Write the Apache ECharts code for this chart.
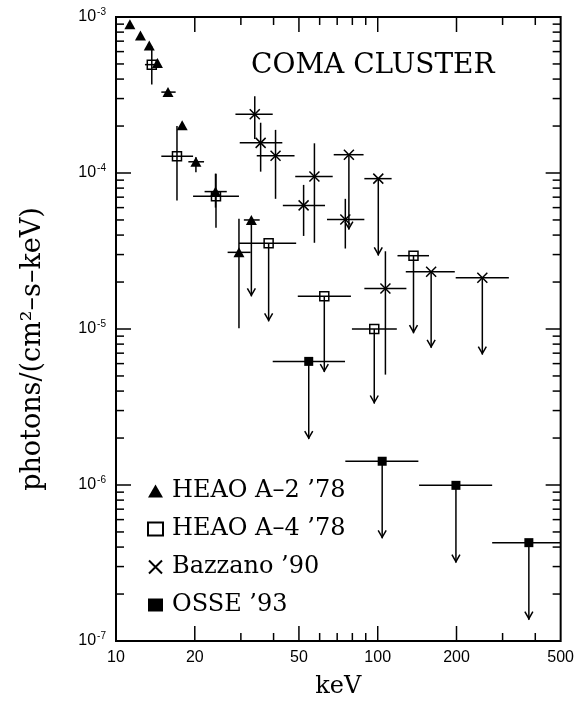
<!DOCTYPE html>
<html>
<head>
<meta charset="utf-8">
<script src="https://cdn.jsdelivr.net/npm/echarts@6/dist/echarts.min.js"></script>
<style>
  html, body { margin: 0; padding: 0; background: #fff; }
  #chart { width: 577px; height: 704px; }
</style>
</head>
<body>
<div id="chart"></div>
<script>
// rows: [keV, keV low, keV high, flux, flux low (or limit tip), flux high, upper limit]
const heaoA2 = [
  [11.3, null, null, 9.0e-4, null, null, 0],
  [12.4, null, null, 7.6e-4, null, null, 0],
  [13.4, null, null, 6.56e-4, null, null, 0],
  [14.4, null, null, 5.07e-4, null, null, 0],
  [15.8, 14.9, 16.9, 3.3e-4, null, null, 0],
  [17.9, null, null, 2.02e-4, null, null, 0],
  [20.2, 18.9, 21.7, 1.18e-4, 1.01e-4, 1.26e-4, 0],
  [24.0, 21.8, 26.5, 7.6e-5, 6.0e-5, 9.9e-5, 0],
  [32.9, 30.8, 35.4, 5.0e-5, 1.62e-5, null, 1],
  [29.5, 26.7, 32.7, 3.1e-5, 1.01e-5, 5.09e-5, 0]
];
const heaoA4 = [
  [13.7, 12.9, 14.3, 4.95e-4, 3.69e-4, 6.47e-4, 0],
  [17.1, 14.9, 19.7, 1.28e-4, 6.66e-5, 2.0e-4, 0],
  [24.1, 19.7, 29.5, 7.1e-5, 4.45e-5, 9.9e-5, 0],
  [38.3, 29.5, 48.8, 3.55e-5, 1.12e-5, null, 1],
  [62.5, 49.5, 79.0, 1.62e-5, 5.3e-6, null, 1],
  [97, 79.7, 118.3, 1.0e-5, 3.33e-6, null, 1],
  [137, 119, 157, 2.95e-5, 9.4e-6, null, 1]
];
const bazzano = [
  [33.9, 28.6, 39.7, 2.38e-4, 1.65e-4, 3.1e-4, 0],
  [35.7, 29.7, 43.2, 1.56e-4, 1.02e-4, 2.1e-4, 0],
  [40.7, 34.5, 48.1, 1.29e-4, 6.83e-5, 1.89e-4, 0],
  [57.3, 48.4, 67.3, 9.5e-5, 3.57e-5, 1.55e-4, 0],
  [52.1, 43.4, 62.9, 6.2e-5, 3.95e-5, 8.39e-5, 0],
  [77.6, 67.9, 88.3, 1.31e-4, 4.34e-5, null, 1],
  [75.2, 64.0, 88.9, 5.04e-5, 3.28e-5, 6.83e-5, 0],
  [100.5, 88.9, 113, 9.2e-5, 2.96e-5, null, 1],
  [107, 88.9, 128.7, 1.82e-5, 5.1e-6, 3.15e-5, 0],
  [160, 128, 197, 2.33e-5, 7.57e-6, null, 1],
  [251, 198.6, 317, 2.13e-5, 6.86e-6, null, 1]
];
const osse = [
  [54.5, 39.7, 75.0, 6.2e-6, 1.97e-6, null, 1],
  [104, 75.2, 143, 1.42e-6, 4.55e-7, null, 1],
  [199, 143.9, 273.7, 9.95e-7, 3.18e-7, null, 1],
  [378, 273.7, 499, 4.27e-7, 1.37e-7, null, 1]
];

const legendNames = ['HEAO A\u20132 \u201978', 'HEAO A\u20134 \u201978', 'Bazzano \u201990', 'OSSE \u201993'];

const xRange = [10, 500];
const yRange = [1e-7, 1e-3];
const xLabels = [10, 20, 50, 100, 200, 500];
const xMajor = [20, 50, 100, 200];
const xMinor = [30, 40, 60, 70, 80, 90, 300, 400];
const yDecades = [1e-7, 1e-6, 1e-5, 1e-4, 1e-3];
const yMantissas = [2, 3, 4, 5, 6, 7, 8, 9];

const yMajor = yDecades.slice(1, -1);
const yMinor = [];
yDecades.slice(0, -1).forEach(function (d) {
  yMantissas.forEach(function (m) { yMinor.push(m * d); });
});

const chart = echarts.init(document.getElementById('chart'));

function ok(v) { return v != null && !isNaN(v); }

const lineSt = { stroke: '#000', lineWidth: 1.5, fill: 'none' };

function seg(x1, y1, x2, y2) {
  return { type: 'line', shape: { x1: x1, y1: y1, x2: x2, y2: y2 }, style: lineSt };
}

// inward ticks on all four sides of the frame, placed through the axes
function frameTicks(api) {
  const out = [];
  function xt(vals, len) {
    vals.forEach(function (v) {
      const p = api.coord([v, yRange[0]]), q = api.coord([v, yRange[1]]);
      out.push(seg(p[0], p[1], p[0], p[1] - len));
      out.push(seg(q[0], q[1], q[0], q[1] + len));
    });
  }
  function yt(vals, len) {
    vals.forEach(function (v) {
      const p = api.coord([xRange[0], v]), q = api.coord([xRange[1], v]);
      out.push(seg(p[0], p[1], p[0] + len, p[1]));
      out.push(seg(q[0], q[1], q[0] - len, q[1]));
    });
  }
  xt(xMajor, 15); xt(xMinor, 8);
  yt(yMajor, 15); yt(yMinor, 8);
  return out;
}

function renderErr(params, api) {
  const E = api.value(0), Elo = api.value(1), Ehi = api.value(2);
  const F = api.value(3), Flo = api.value(4), Fhi = api.value(5), lim = api.value(6);
  let children = [];
  if (ok(Elo) && ok(Ehi)) {
    const a = api.coord([Elo, F]), b = api.coord([Ehi, F]);
    children.push(seg(a[0], a[1], b[0], b[1]));
  }
  if (ok(Flo) || ok(Fhi)) {
    const t = api.coord([E, ok(Fhi) ? Fhi : F]);
    const b = api.coord([E, ok(Flo) ? Flo : F]);
    children.push(seg(t[0], t[1], b[0], b[1]));
    if (lim === 1) {
      children.push({ type: 'polyline', shape: { points: [[b[0] - 4, b[1] - 8], [b[0], b[1] - 1], [b[0] + 4, b[1] - 8]] }, style: lineSt });
    }
  }
  if (params.seriesIndex === 0 && params.dataIndex === 0) {
    children = children.concat(frameTicks(api));
  }
  return { type: 'group', children: children };
}

function errSeries(data) {
  return {
    type: 'custom', renderItem: renderErr, data: data,
    encode: { x: 0, y: 3 }, z: 2, silent: true, clip: false
  };
}

function pts(data) {
  return data.map(function (r) { return [r[0], r[3]]; });
}

chart.setOption({
  animation: false,
  title: {
    text: 'COMA CLUSTER', left: 246, top: 47,
    textStyle: { fontFamily: 'DejaVu Serif', fontSize: 28, fontWeight: 'normal', color: '#000' }
  },
  grid: {
    left: 116, right: 15, top: 17, bottom: 59,
    show: true, borderColor: '#000', borderWidth: 2, backgroundColor: 'transparent'
  },
  legend: {
    orient: 'vertical', left: 142, top: 474,
    itemWidth: 15, itemHeight: 13, itemGap: 14,
    selectedMode: false,
    data: legendNames,
    textStyle: { fontFamily: 'DejaVu Serif', fontSize: 24, color: '#000', padding: [0, 0, 0, 4] }
  },
  xAxis: {
    type: 'log', min: xRange[0], max: xRange[1],
    axisLine: { show: false },
    splitLine: { show: false },
    axisTick: { show: false },
    axisLabel: {
      customValues: xLabels, margin: 9,
      fontFamily: 'Liberation Sans', fontSize: 16, color: '#000'
    },
    name: 'keV', nameLocation: 'middle', nameGap: 34,
    nameTextStyle: { fontFamily: 'DejaVu Serif', fontSize: 24, color: '#000' }
  },
  yAxis: {
    type: 'log', min: yRange[0], max: yRange[1],
    axisLine: { show: false },
    splitLine: { show: false },
    axisTick: { show: false },
    axisLabel: {
      customValues: yDecades, margin: 10,
      formatter: function (v) {
        return '{b|10}{s|-' + Math.round(-Math.log10(v)) + '}';
      },
      rich: {
        b: { fontFamily: 'Liberation Sans', fontSize: 16, color: '#000' },
        s: { fontFamily: 'Liberation Sans', fontSize: 10, color: '#000', padding: [0, 0, 10, 1] }
      }
    },
    name: 'photons/(cm\u00b2\u2013s\u2013keV)', nameLocation: 'middle', nameGap: 70,
    nameTextStyle: { fontFamily: 'DejaVu Serif', fontSize: 27, color: '#000', padding: [0, 40, 0, 0] }
  },
  series: [
    errSeries(heaoA2), errSeries(heaoA4), errSeries(bazzano), errSeries(osse),
    {
      name: legendNames[0], type: 'scatter', data: pts(heaoA2), symbol: 'triangle', symbolSize: [11, 10],
      itemStyle: { color: '#000', opacity: 1 }, z: 3
    },
    {
      name: legendNames[1], type: 'scatter', data: pts(heaoA4), symbol: 'rect', symbolSize: 9,
      itemStyle: { color: 'transparent', borderColor: '#000', borderWidth: 1.5, opacity: 1 }, z: 3
    },
    {
      name: legendNames[2], type: 'scatter', data: pts(bazzano), symbol: 'path://M0,0L10,10M10,0L0,10', symbolSize: 10,
      itemStyle: { color: 'transparent', borderColor: '#000', borderWidth: 1.5, opacity: 1 }, z: 3
    },
    {
      name: legendNames[3], type: 'scatter', data: pts(osse), symbol: 'rect', symbolSize: 9,
      itemStyle: { color: '#000', opacity: 1 }, z: 3
    }
  ]
});
</script>
</body>
</html>
